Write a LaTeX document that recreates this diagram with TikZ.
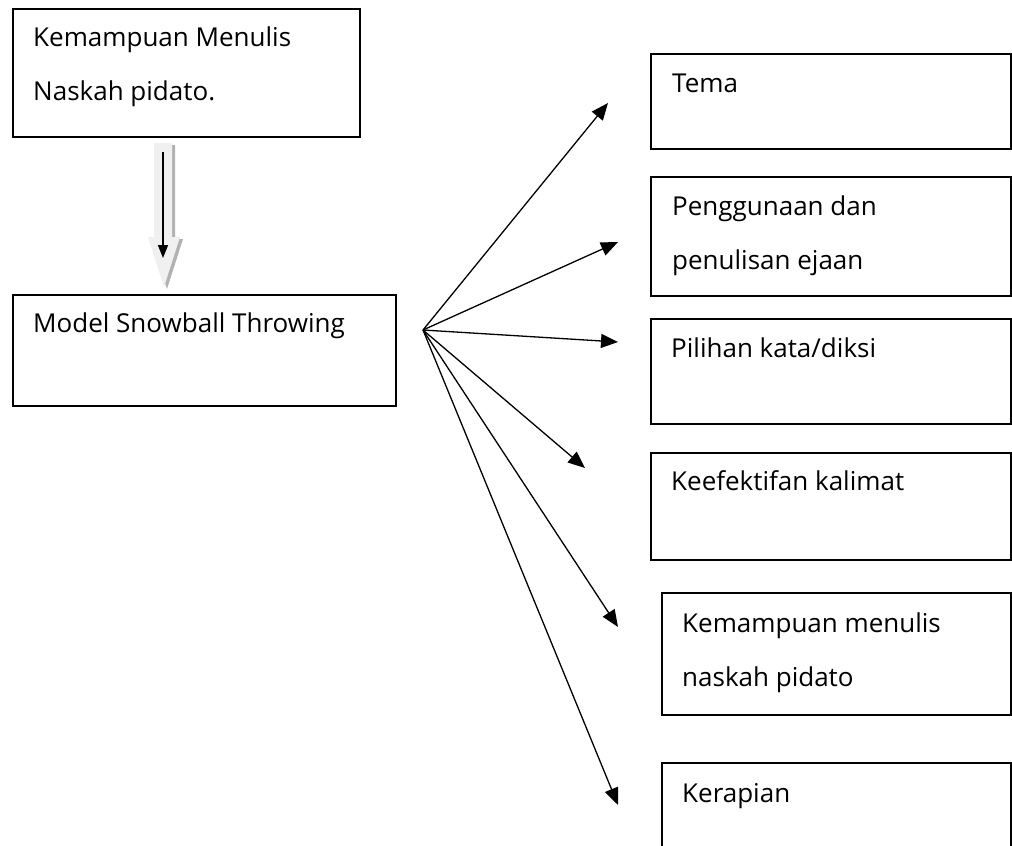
\documentclass[tikz,border=0pt]{standalone}
\usepackage{fontspec}
\setmainfont{Open Sans}
\usetikzlibrary{arrows.meta,calc}

\begin{document}
\begin{tikzpicture}[
  x=1pt, y=-1pt,
  font=\fontsize{26}{54}\selectfont,
  >={Triangle[length=17pt, width=14pt]},
  kotak/.style={draw=black, line width=1.8pt, anchor=north west, inner sep=0pt},
  teks/.style={anchor=base west, inner sep=0pt, align=left},
  ar/.style={->, line width=1.3pt},
  blok/.style={fill=black!6, draw=none},
  bayang/.style={fill=black!30, draw=none},
]
\clip (0,0) rectangle (1012,846);
\fill[white] (0,0) rectangle (1012,846);

% ---------- left column ----------
\node[kotak, minimum width=347pt, minimum height=128pt] (menulis) at (12,8) {};
% base anchor of a two-line text sits on its last line
\node[teks] (menulisT) at (33,100) {Kemampuan Menulis\\Naskah pidato.};

\node[kotak, minimum width=383pt, minimum height=111pt] (model) at (12,294) {};
\node[teks] (modelT) at (33,332) {Model Snowball Throwing};

% ---------- block arrow between the two ----------
\fill[bayang] (157,145) -- (175,145) -- (175,239) -- (183,239) -- (167,289) -- (151,239) -- (157,239) -- cycle;
\fill[blok] (154,143) -- (172,143) -- (172,237) -- (180,237) -- (164,287) -- (148,237) -- (154,237) -- cycle;
\coordinate (atas) at (163,152);
\coordinate (bawah) at (163,258);
\draw[line width=1.6pt, -{Triangle[length=13pt, width=10pt]}] (atas) -- (bawah);

% ---------- right column ----------
\node[kotak, minimum width=360pt, minimum height=95pt] (tema) at (650,53) {};
\node[teks] (temaT) at (672,92) {Tema};

\node[kotak, minimum width=360pt, minimum height=119pt] (ejaan) at (650,176) {};
\node[teks] (ejaanT) at (672,269) {Penggunaan dan\\penulisan ejaan};

\node[kotak, minimum width=360pt, minimum height=105pt] (diksi) at (650,318) {};
\node[teks] (diksiT) at (671,357) {Pilihan kata/diksi};

\node[kotak, minimum width=360pt, minimum height=107pt] (kalimat) at (650,452) {};
\node[teks] (kalimatT) at (671,490) {Keefektifan kalimat};

\node[kotak, minimum width=349pt, minimum height=122pt] (naskah) at (661,592) {};
\node[teks] (naskahT) at (682,686) {Kemampuan menulis\\naskah pidato};

\node[kotak, minimum width=349pt, minimum height=110pt] (rapi) at (661,762) {};
\node[teks] (rapiT) at (682,802) {Kerapian};

% ---------- fan of arrows ----------
\coordinate (pusat) at (423,330);
\coordinate (keTema) at (608,103);
\coordinate (keEjaan) at (618,242);
\coordinate (keDiksi) at (618,342);
\coordinate (keKalimat) at (585,468);
\coordinate (keNaskah) at (618,627);
\coordinate (keRapi) at (618,805);

\foreach \t in {keTema,keEjaan,keDiksi,keKalimat,keNaskah,keRapi}
  \draw[ar] (pusat) -- (\t);

\end{tikzpicture}
\end{document}
